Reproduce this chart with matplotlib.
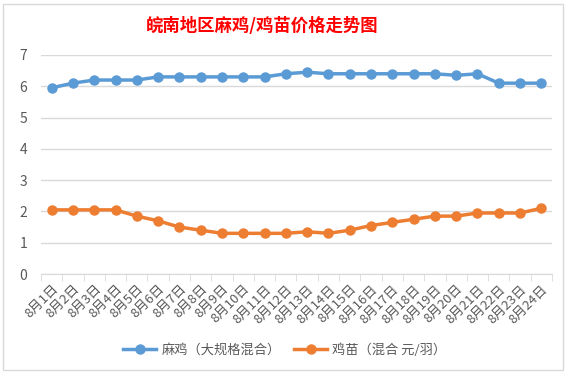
import matplotlib
matplotlib.use("Agg")
import matplotlib.pyplot as plt
from matplotlib.patches import Rectangle

plt.rcParams['font.family'] = ['Noto Sans CJK SC', 'DejaVu Sans']

dates = [f"8月{i}日" for i in range(1, 25)]
mj = [5.95, 6.1, 6.2, 6.2, 6.2, 6.3, 6.3, 6.3, 6.3, 6.3, 6.3, 6.4,
      6.45, 6.4, 6.4, 6.4, 6.4, 6.4, 6.4, 6.35, 6.4, 6.1, 6.1, 6.1]
jm = [2.05, 2.05, 2.05, 2.05, 1.85, 1.7, 1.5, 1.4, 1.3, 1.3, 1.3, 1.3,
      1.35, 1.3, 1.4, 1.55, 1.65, 1.75, 1.85, 1.85, 1.95, 1.95, 1.95, 2.1]
series_names = ["麻鸡（大规格混合）", "鸡苗（混合 元/羽）"]
title = "皖南地区麻鸡/鸡苗价格走势图"

fig = plt.figure(figsize=(5.7, 3.75), dpi=100)
fig.patch.set_facecolor('white')
# chart border
fig.add_artist(Rectangle((3/570, 1-370/375), 560/570, 366/375, transform=fig.transFigure,
                         fill=False, edgecolor='#D9D9D9', lw=1))

ax = fig.add_axes([41/570, 1-274/375, 511/570, 219/375])
x = list(range(len(dates)))
ax.plot(x, mj, color='#5B9BD5', lw=2.5, marker='o', ms=6.5, label=series_names[0])
ax.plot(x, jm, color='#ED7D31', lw=2.5, marker='o', ms=6.5, label=series_names[1])

ax.set_xlim(-0.5, len(dates) - 0.5)
ax.set_ylim(0, 7)
ax.set_yticks(range(0, 8))
ax.yaxis.grid(True, color='#D9D9D9', lw=1)
ax.set_axisbelow(True)
for s in ['top', 'right', 'left']:
    ax.spines[s].set_visible(False)
ax.spines['bottom'].set_color('#D9D9D9')
ax.tick_params(axis='y', length=0, labelsize=10, labelcolor='#595959', pad=10)
ax.set_xticks(x)
ax.set_xticklabels(dates, rotation=45, ha='right', va='top', rotation_mode='anchor',
                   fontsize=9.5, color='#595959')
ax.tick_params(axis='x', length=0, pad=6)
ax.set_xticks([i - 0.5 for i in range(len(dates) + 1)], minor=True)
ax.tick_params(axis='x', which='minor', length=5, color='#D9D9D9', direction='out')

fig.text(262/570, 1-26/375, title, ha='center', va='center', color='#FF0000',
         fontsize=12.5, fontweight='bold')

fig.legend(loc='center', bbox_to_anchor=(0.5, 1-350/375), ncol=2, frameon=False,
           fontsize=9.5, labelcolor='#595959', handlelength=2.5, columnspacing=1.0,
           handletextpad=0.4)

fig.savefig('out.png', dpi=100)
